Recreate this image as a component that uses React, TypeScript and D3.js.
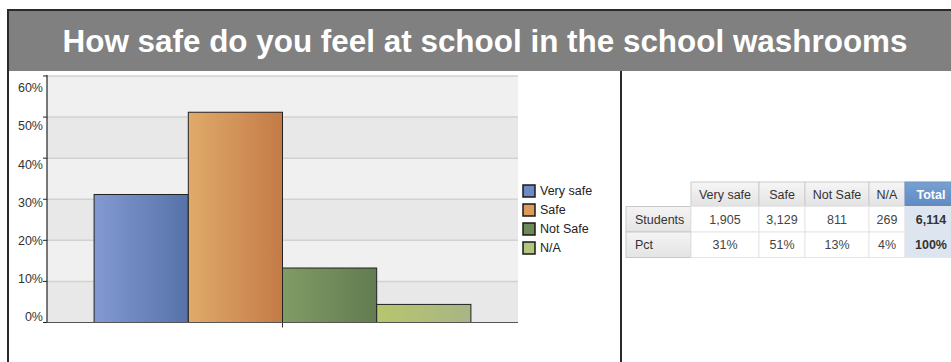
import React from 'react';
import * as d3 from 'd3';

const title = 'How safe do you feel at school in the school washrooms';
const categories = ['Very safe', 'Safe', 'Not Safe', 'N/A'];
const students = [1905, 3129, 811, 269];
const totalStudents = 6114;
const pctLabels = ['31%', '51%', '13%', '4%'];
const yTicks = [0, 10, 20, 30, 40, 50, 60];

// left -> right gradient stops, and the flat legend swatch colour
const barColors = [
  { from: '#8399d2', to: '#5672a9', swatch: '#6f89c2' },
  { from: '#e0aa6a', to: '#c47b47', swatch: '#dc9b5d' },
  { from: '#809c64', to: '#637b51', swatch: '#6f8a5a' },
  { from: '#b6c66e', to: '#a9b585', swatch: '#b3c47c' },
];

const W = 951;
const H = 362;
const font = 'Arial, "Liberation Sans", Helvetica, sans-serif';

const plot = { left: 47, right: 518, top: 76, bottom: 322.5 };

const App: React.FC = () => {
  const plotW = plot.right - plot.left;
  const x = d3.scaleBand<string>()
    .domain(categories)
    .range([plot.left + plotW / 10, plot.right - plotW / 10])
    .paddingInner(0);
  const y = d3.scaleLinear().domain([0, 60]).range([plot.bottom, plot.top]);
  // the tick labels in the original sit on a slightly squeezed scale
  const yLabel = d3.scaleLinear().domain([0, 60]).range([316.7, 88]);

  const values = students.map(v => (v / totalStudents) * 100);

  // table layout
  const colX = [626, 691, 759, 805, 869, 905, 957];
  const rowY = [182, 206.5, 232, 257.5];
  const rowNames = ['Students', 'Pct'];
  const rowData = [
    [...students.map(d => d3.format(',')(d)), d3.format(',')(totalStudents)],
    [...pctLabels, '100%'],
  ];
  const headers = [...categories, 'Total'];

  return (
    <svg width={W} height={H} style={{ position: 'absolute', left: 0, top: 0 }}
      fontFamily={font}>
      <defs>
        {barColors.map((c, i) => (
          <linearGradient key={i} id={`bar${i}`} x1="0" x2="1" y1="0" y2="0">
            <stop offset="0%" stopColor={c.from} />
            <stop offset="100%" stopColor={c.to} />
          </linearGradient>
        ))}
        <linearGradient id="hdr" x1="0" x2="0" y1="0" y2="1">
          <stop offset="0%" stopColor="#f6f6f6" />
          <stop offset="100%" stopColor="#e2e2e2" />
        </linearGradient>
        <linearGradient id="hdrTotal" x1="0" x2="0" y1="0" y2="1">
          <stop offset="0%" stopColor="#78a0d2" />
          <stop offset="100%" stopColor="#5e8ac4" />
        </linearGradient>
        <linearGradient id="rowHdr" x1="0" x2="0" y1="0" y2="1">
          <stop offset="0%" stopColor="#f4f4f4" />
          <stop offset="100%" stopColor="#e4e4e4" />
        </linearGradient>
      </defs>

      <rect x={0} y={0} width={W} height={H} fill="#ffffff" />

      {/* header band */}
      <rect x={8} y={10} width={W - 8} height={61} fill="#808080" />
      <line x1={8} x2={W} y1={10} y2={10} stroke="#2a2a2a" strokeWidth={2} />
      <text x={485} y={51.5} textAnchor="middle" fill="#ffffff" fontSize={32}
        fontWeight="bold" textLength={845} lengthAdjust="spacingAndGlyphs">{title}</text>

      {/* frame lines */}
      <line x1={8} x2={8} y1={9} y2={H} stroke="#2a2a2a" strokeWidth={2} />
      <line x1={621} x2={621} y1={71} y2={H} stroke="#2a2a2a" strokeWidth={2} />

      {/* plot background bands */}
      {yTicks.slice(0, -1).map((t, i) => (
        <rect key={t} x={plot.left} y={y(t + 10)} width={plotW}
          height={y(t) - y(t + 10)} fill={i % 2 === 0 ? '#e8e8e8' : '#f0f0f0'} />
      ))}
      {yTicks.slice(1).map(t => (
        <line key={t} x1={plot.left} x2={plot.right} y1={y(t)} y2={y(t)}
          stroke="#d2d2d2" strokeWidth={1.5} />
      ))}

      {/* bars */}
      {categories.map((c, i) => (
        <rect key={c} x={x(c)!} y={y(values[i])} width={x.bandwidth()}
          height={y(0) - y(values[i])} fill={`url(#bar${i})`}
          stroke="#222" strokeWidth={1} />
      ))}

      {/* y axis */}
      <line x1={plot.left} x2={plot.left} y1={plot.top - 1} y2={plot.bottom}
        stroke="#222" strokeWidth={1.2} />
      {yTicks.map(t => (
        <g key={t}>
          <line x1={plot.left - 4} x2={plot.left} y1={y(t)} y2={y(t)}
            stroke="#222" strokeWidth={1} />
          <text x={43} y={yLabel(t)} textAnchor="end" fontSize={12.5} fill="#333"
            dy="0.35em">{`${t}%`}</text>
        </g>
      ))}

      {/* x axis */}
      <line x1={plot.left} x2={plot.right} y1={plot.bottom} y2={plot.bottom}
        stroke="#555" strokeWidth={1.2} />
      <line x1={(plot.left + plot.right) / 2} x2={(plot.left + plot.right) / 2}
        y1={plot.bottom} y2={plot.bottom + 5} stroke="#333" strokeWidth={1} />

      {/* legend */}
      {categories.map((c, i) => (
        <g key={c} transform={`translate(523, ${185 + i * 19})`}>
          <rect x={0} y={0} width={12} height={12} fill={barColors[i].swatch}
            stroke="#1a1a1a" strokeWidth={1.5} />
          <text x={17} y={6} dy="0.35em" fontSize={12.5} fill="#222">{c}</text>
        </g>
      ))}

      {/* table header */}
      {headers.map((h, j) => {
        const isTotal = h === 'Total';
        const x0 = colX[j + 1];
        const x1 = colX[j + 2];
        return (
          <g key={h}>
            <rect x={x0} y={rowY[0]} width={x1 - x0} height={rowY[1] - rowY[0]}
              fill={isTotal ? 'url(#hdrTotal)' : 'url(#hdr)'}
              stroke={isTotal ? '#6a92c6' : '#cccccc'} strokeWidth={1} />
            <text x={(x0 + x1) / 2} y={(rowY[0] + rowY[1]) / 2} dy="0.35em"
              textAnchor="middle" fontSize={12.5}
              fill={isTotal ? '#ffffff' : '#333'}
              fontWeight={isTotal ? 'bold' : 'normal'}>{h}</text>
          </g>
        );
      })}

      {/* table rows */}
      {rowNames.map((r, i) => (
        <g key={r}>
          <rect x={colX[0]} y={rowY[i + 1]} width={colX[1] - colX[0]}
            height={rowY[i + 2] - rowY[i + 1]} fill="url(#rowHdr)"
            stroke="#c8c8c8" strokeWidth={1} />
          <text x={colX[0] + 9} y={(rowY[i + 1] + rowY[i + 2]) / 2} dy="0.35em"
            fontSize={12.5} fill="#333">{r}</text>
          {rowData[i].map((v, j) => {
            const isTotal = j === rowData[i].length - 1;
            const x0 = colX[j + 1];
            const x1 = colX[j + 2];
            return (
              <g key={j}>
                <rect x={x0} y={rowY[i + 1]} width={x1 - x0}
                  height={rowY[i + 2] - rowY[i + 1]}
                  fill={isTotal ? '#dde5f1' : '#ffffff'}
                  stroke="#e6e6e6" strokeWidth={1} />
                <text x={(x0 + x1) / 2} y={(rowY[i + 1] + rowY[i + 2]) / 2}
                  dy="0.35em" textAnchor="middle" fontSize={12.5}
                  fill={isTotal ? '#333' : '#444'}
                  fontWeight={isTotal ? 'bold' : 'normal'}>{v}</text>
              </g>
            );
          })}
        </g>
      ))}
    </svg>
  );
};

export default App;
